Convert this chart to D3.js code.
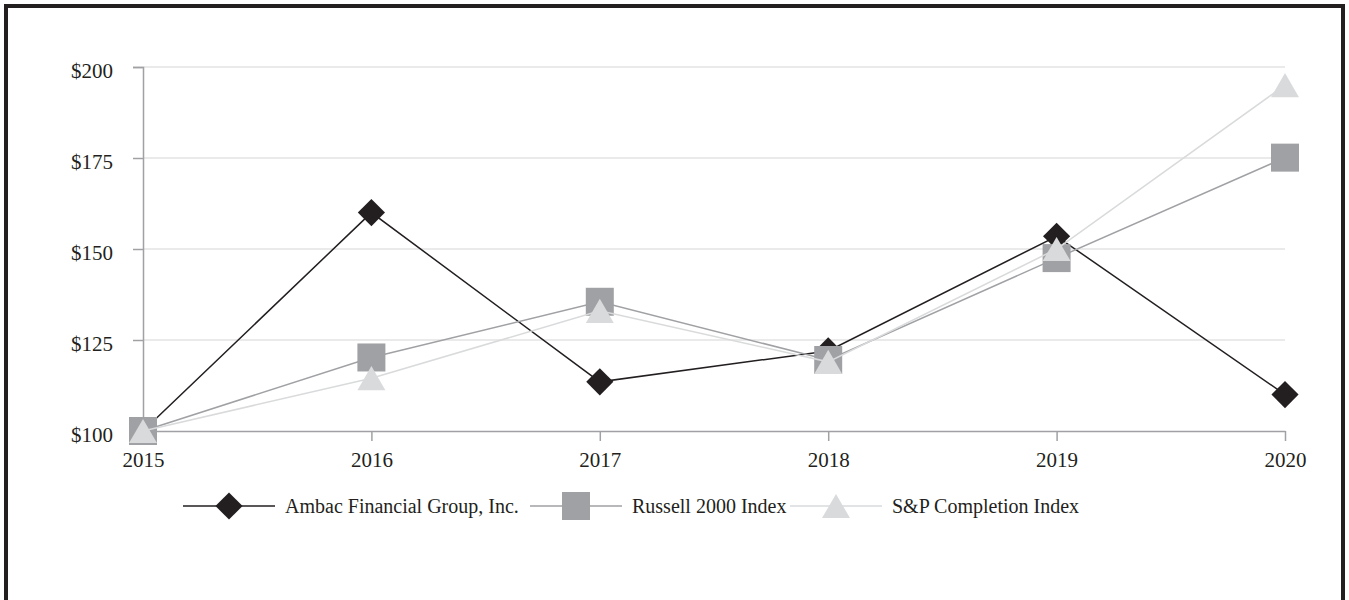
<!DOCTYPE html>
<html>
<head>
<meta charset="utf-8">
<script src="https://cdn.jsdelivr.net/npm/d3@7"></script>
<style>
  html, body { margin: 0; padding: 0; background: #fff; }
  svg { display: block; }
  text { font-family: "Liberation Serif", "Times New Roman", serif; fill: #231f20; }
</style>
</head>
<body>
<svg id="chart" width="1349" height="600"></svg>
<script>
const years = [2015, 2016, 2017, 2018, 2019, 2020];
const ambac = [100, 160, 113.5, 122, 153.5, 110];
const russell = [100, 120.2, 135.5, 119.5, 147.5, 175.1];
const spCompletion = [100, 114.5, 133, 119, 150, 195];
const yTicks = [100, 125, 150, 175, 200];
const seriesNames = ["Ambac Financial Group, Inc.", "Russell 2000 Index", "S&P Completion Index"];

const svg = d3.select("#chart");

// frame
svg.append("rect").attr("x", 6).attr("y", 6).attr("width", 1337).attr("height", 620)
  .attr("fill", "none").attr("stroke", "#231f20").attr("stroke-width", 4);

const x = d3.scalePoint().domain(years).range([143, 1285]);
const y = d3.scaleLinear().domain([100, 200]).range([431, 67]);

// gridlines
svg.append("g").selectAll("line").data(yTicks.filter(d => d !== 100)).join("line")
  .attr("x1", 143).attr("x2", 1285)
  .attr("y1", d => y(d)).attr("y2", d => y(d))
  .attr("stroke", "#e3e3e3").attr("stroke-width", 1.5);

// y axis
const yAxis = svg.append("g").attr("transform", "translate(143,0)")
  .call(d3.axisLeft(y).tickValues(yTicks).tickSize(10).tickPadding(20).tickFormat(d => "$" + d));
yAxis.select(".domain").attr("stroke", "#a0a1a4").attr("stroke-width", 1.5);
yAxis.selectAll(".tick line").attr("stroke", "#a0a1a4").attr("stroke-width", 1.5);
yAxis.selectAll(".tick text").attr("font-family", "Liberation Serif").attr("font-size", 21)
  .attr("dy", "0.5em").attr("fill", "#231f20");

// x axis
const xAxis = svg.append("g").attr("transform", "translate(0,431)")
  .call(d3.axisBottom(x).tickSize(10).tickPadding(11).tickSizeOuter(0));
xAxis.select(".domain").attr("stroke", "#a0a1a4").attr("stroke-width", 1.5);
xAxis.selectAll(".tick line").attr("stroke", "#a0a1a4").attr("stroke-width", 1.5);
xAxis.selectAll(".tick text").attr("font-family", "Liberation Serif").attr("font-size", 21).attr("fill", "#231f20");

const series = [
  { name: seriesNames[0], values: ambac, color: "#231f20", shape: "diamond" },
  { name: seriesNames[1], values: russell, color: "#a0a1a4", shape: "square" },
  { name: seriesNames[2], values: spCompletion, color: "#d9dadb", shape: "triangle" }
];

const line = d3.line().x((d, i) => x(years[i])).y(d => y(d));

function markerPath(shape) {
  if (shape === "diamond") return d3.symbol(d3.symbolDiamond2, 470)();
  if (shape === "square") return d3.symbol(d3.symbolSquare, 784)();
  return d3.symbol(d3.symbolTriangle2, 560)();
}
function markerShift(shape) {
  // centre triangle's bounding box on the point
  return shape === "triangle" ? Math.sqrt(560) * 0.6824 / 4 : 0;
}

series.forEach(s => {
  svg.append("path").datum(s.values).attr("d", line)
    .attr("fill", "none").attr("stroke", s.color).attr("stroke-width", 1.5);
  svg.append("g").selectAll("path").data(s.values).join("path")
    .attr("transform", (d, i) => `translate(${x(years[i])},${y(d) + markerShift(s.shape)})`)
    .attr("d", markerPath(s.shape))
    .attr("fill", s.color);
});

// legend
const legendY = 506;
const legendX = [183, 530, 790];
series.forEach((s, i) => {
  const g = svg.append("g").attr("transform", `translate(${legendX[i]},${legendY})`);
  g.append("line").attr("x1", 0).attr("x2", 92).attr("y1", 0).attr("y2", 0)
    .attr("stroke", s.color).attr("stroke-width", 1.5);
  g.append("path").attr("transform", `translate(46,${markerShift(s.shape)})`)
    .attr("d", markerPath(s.shape)).attr("fill", s.color);
  g.append("text").attr("x", 102).attr("y", 0).attr("dy", "0.35em")
    .attr("font-size", 20).text(s.name);
});
</script>
</body>
</html>
